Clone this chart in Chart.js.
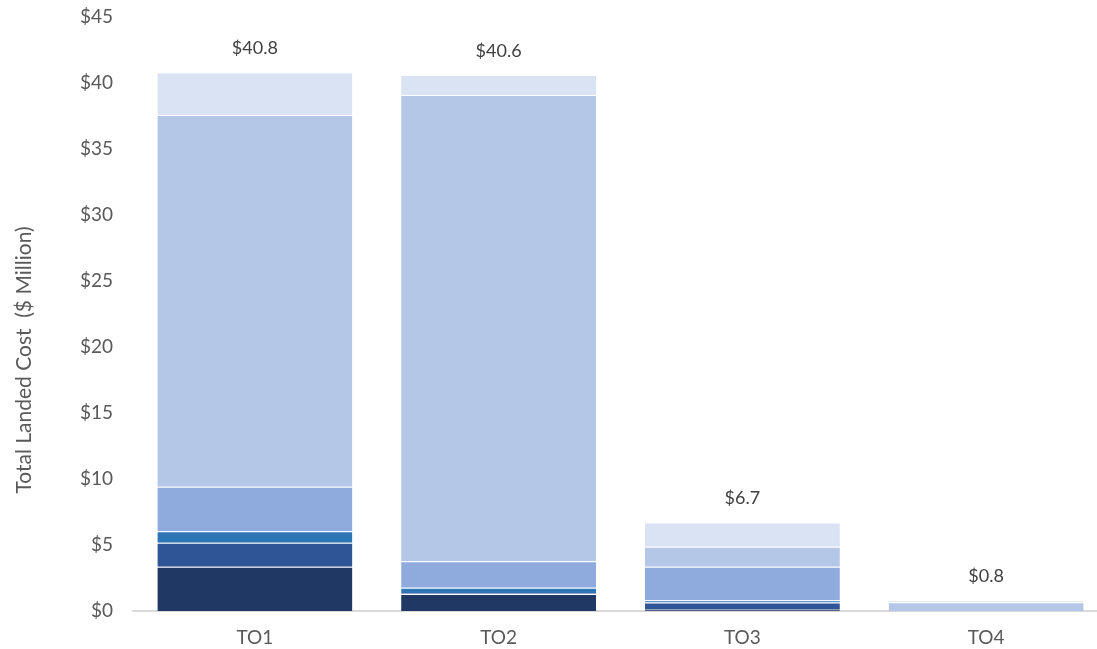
<!DOCTYPE html>
<html>
<head>
<meta charset="utf-8">
<title>Total Landed Cost by TO</title>
<script src="https://cdn.jsdelivr.net/npm/chart.js@4/dist/chart.umd.min.js"></script>
<style>
  html, body { margin: 0; padding: 0; background: #ffffff; overflow: hidden; }
  #wrap { width: 1108px; height: 649px; }
</style>
</head>
<body>
<div id="wrap"><canvas id="cost" width="1108" height="649"></canvas></div>
<script>
// Categories and cost components ($ Million), stacked bottom to top
const categories = ['TO1', 'TO2', 'TO3', 'TO4'];
const componentA = [3.36, 1.29, 0.10, 0];
const componentB = [1.81, 0.07, 0.55, 0];
const componentC = [0.87, 0.41, 0.16, 0];
const componentD = [3.38, 2.00, 2.55, 0];
const componentE = [28.16, 35.33, 1.50, 0.66];
const componentF = [3.22, 1.50, 1.84, 0.14];
const yTicks = [0, 5, 10, 15, 20, 25, 30, 35, 40, 45];

const series = [
  { name: 'Component A', data: componentA, color: '#203864' },
  { name: 'Component B', data: componentB, color: '#2F5597' },
  { name: 'Component C', data: componentC, color: '#2E75B6' },
  { name: 'Component D', data: componentD, color: '#8FAADC' },
  { name: 'Component E', data: componentE, color: '#B4C7E7' },
  { name: 'Component F', data: componentF, color: '#DAE3F3' }
];

const totals = categories.map((_, i) => series.reduce((s, d) => s + d.data[i], 0));

const FONT = 'Lato, "Open Sans", sans-serif';

// Totals above each stack
const totalLabels = {
  id: 'totalLabels',
  afterDatasetsDraw(chart) {
    const { ctx, scales: { x, y } } = chart;
    ctx.save();
    ctx.font = '18px ' + FONT;
    ctx.fillStyle = '#404040';
    ctx.textAlign = 'center';
    ctx.textBaseline = 'middle';
    totals.forEach((t, i) => {
      ctx.fillText('$' + t.toFixed(1), x.getPixelForValue(i), y.getPixelForValue(t) - 24);
    });
    ctx.restore();
  }
};

// Rotated y-axis title
const axisTitle = {
  id: 'axisTitle',
  afterDraw(chart) {
    const { ctx } = chart;
    ctx.save();
    ctx.translate(24, 360);
    ctx.rotate(-Math.PI / 2);
    ctx.font = '21px ' + FONT;
    ctx.fillStyle = '#595959';
    ctx.textAlign = 'center';
    ctx.textBaseline = 'middle';
    ctx.fillText('Total Landed Cost  ($ Million)', 0, 0);
    ctx.restore();
  }
};

new Chart(document.getElementById('cost'), {
  type: 'bar',
  data: {
    labels: categories,
    datasets: series.map(s => ({
      label: s.name,
      data: s.data,
      backgroundColor: s.color,
      borderColor: 'rgba(255,255,255,0.5)',
      borderWidth: { top: 1, right: 0, bottom: 0, left: 0 },
      borderSkipped: false,
      categoryPercentage: 0.8,
      barPercentage: 1.0
    }))
  },
  options: {
    responsive: false,
    devicePixelRatio: 1,
    animation: false,
    layout: { padding: { top: 17, right: 0, bottom: 0, left: 0 } },
    plugins: { legend: { display: false }, tooltip: { enabled: false } },
    scales: {
      x: {
        stacked: true,
        grid: { display: false, drawTicks: false },
        border: { display: true, color: '#D9D9D9', width: 2 },
        ticks: { color: '#595959', font: { family: FONT, size: 19 }, padding: 15 },
        afterFit(scale) { scale.height = 38; scale.paddingLeft = 0; scale.paddingRight = 0; }
      },
      y: {
        stacked: true,
        min: 0,
        max: 45,
        grid: { display: false, drawTicks: false },
        border: { display: false },
        afterBuildTicks(scale) { scale.ticks = yTicks.map(v => ({ value: v })); },
        ticks: {
          color: '#595959',
          font: { family: FONT, size: 19 },
          padding: 20,
          callback: v => '$' + v
        },
        afterFit(scale) { scale.width = 133; scale.paddingTop = 0; scale.paddingBottom = 0; }
      }
    }
  },
  plugins: [totalLabels, axisTitle]
});
</script>
</body>
</html>
